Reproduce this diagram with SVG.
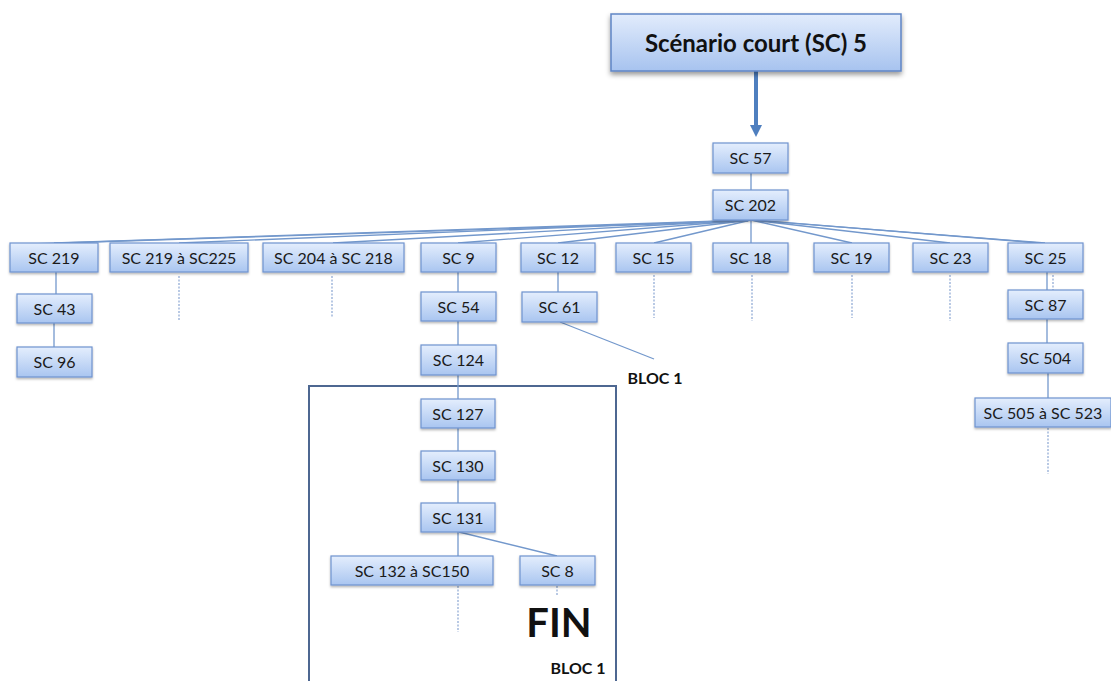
<svg xmlns="http://www.w3.org/2000/svg" width="1111" height="681" viewBox="0 0 1111 681">
<defs>
<linearGradient id="g" x1="0" y1="0" x2="0" y2="1">
<stop offset="0" stop-color="#e4eefd"/>
<stop offset="1" stop-color="#a9c5f0"/>
</linearGradient>
<linearGradient id="gt" x1="0" y1="0" x2="0" y2="1">
<stop offset="0" stop-color="#e2ecfc"/>
<stop offset="1" stop-color="#a7c3ef"/>
</linearGradient>
<filter id="sh" x="-20%" y="-30%" width="140%" height="170%">
<feDropShadow dx="0" dy="1.5" stdDeviation="1" flood-color="#000" flood-opacity="0.3"/>
</filter>
<filter id="sh2" x="-10%" y="-20%" width="120%" height="150%">
<feDropShadow dx="0" dy="3" stdDeviation="2.5" flood-color="#000" flood-opacity="0.4"/>
</filter>
<marker id="ah" markerWidth="14" markerHeight="12" refX="0" refY="6" orient="auto" markerUnits="userSpaceOnUse">
<path d="M0,0 L12,6 L0,12 Z" fill="#4f7fbf"/>
</marker>
</defs>
<style>
.n rect{fill:url(#g);stroke:#6f93cf;stroke-width:1.2;filter:url(#sh)}
.n text{font-family:Lato,"Open Sans",sans-serif;font-size:16px;fill:#1a1a1a;text-anchor:middle}
.c line{stroke:#7398cc;stroke-width:1.3;fill:none}
.c .d{stroke:#8aa6d2;stroke-width:1.2;stroke-dasharray:2 1.5}
.lbl{font-family:Lato,"Open Sans",sans-serif;font-weight:bold;fill:#111}
</style>
<rect width="1111" height="681" fill="#fff"/>

<g id="bloc-box">
<rect x="309" y="386" width="307" height="300" fill="none" stroke="#4d6791" stroke-width="2"/>
</g>

<g id="connectors" class="c">
<line x1="756" y1="71" x2="756" y2="125" style="stroke:#4f7fbf;stroke-width:4" marker-end="url(#ah)"/>
<line x1="751" y1="173" x2="751" y2="190"/>
<line x1="751" y1="220" x2="54" y2="243"/>
<line x1="748" y1="221" x2="30" y2="244"/>
<line x1="751" y1="220" x2="179" y2="243"/>
<line x1="751" y1="220" x2="333" y2="243"/>
<line x1="751" y1="220" x2="458" y2="243"/>
<line x1="751" y1="220" x2="558" y2="243"/>
<line x1="751" y1="220" x2="654" y2="243"/>
<line x1="751" y1="220" x2="751" y2="243"/>
<line x1="751" y1="220" x2="852" y2="243"/>
<line x1="751" y1="220" x2="950" y2="243"/>
<line x1="751" y1="220" x2="1045" y2="243"/>
<line x1="755" y1="220" x2="1040" y2="243"/>
<line x1="56" y1="272" x2="56" y2="294"/>
<line x1="54" y1="323" x2="54" y2="347"/>
<line class="d" x1="179" y1="276" x2="179" y2="321"/>
<line class="d" x1="332" y1="276" x2="332" y2="318"/>
<line x1="458" y1="272" x2="458" y2="292"/>
<line x1="458" y1="321" x2="458" y2="345"/>
<line x1="458" y1="375" x2="458" y2="399"/>
<line x1="458" y1="428" x2="458" y2="451"/>
<line x1="458" y1="480" x2="458" y2="503"/>
<line x1="458" y1="532" x2="458" y2="556"/>
<line x1="459" y1="532" x2="557" y2="556"/>
<line class="d" x1="458" y1="586" x2="458" y2="632"/>
<line class="d" x1="557" y1="586" x2="557" y2="595"/>
<line x1="558" y1="272" x2="558" y2="292"/>
<line x1="560" y1="322" x2="654" y2="359"/>
<line class="d" x1="654" y1="275" x2="654" y2="318"/>
<line class="d" x1="752" y1="275" x2="752" y2="321"/>
<line class="d" x1="852" y1="275" x2="852" y2="318"/>
<line class="d" x1="950" y1="275" x2="950" y2="321"/>
<line x1="1047" y1="272" x2="1047" y2="290"/>
<line class="d" x1="1053" y1="275" x2="1053" y2="320"/>
<line x1="1047" y1="319" x2="1047" y2="343"/>
<line x1="1048" y1="373" x2="1048" y2="398"/>
<line class="d" x1="1048" y1="428" x2="1048" y2="474"/>
</g>

<g id="title">
<rect x="611" y="14" width="290" height="57" fill="url(#gt)" stroke="#5f85c5" stroke-width="1.5" filter="url(#sh2)"/>
<text x="756" y="52" class="lbl" font-size="24" text-anchor="middle">Scénario court (SC) 5</text>
</g>

<g id="sc57" class="n"><rect x="713" y="143" width="75" height="30"/><text x="750.5" y="164">SC 57</text></g>
<g id="sc202" class="n"><rect x="713" y="190" width="75" height="30"/><text x="750.5" y="211">SC 202</text></g>

<g id="sc219" class="n"><rect x="10" y="243" width="88" height="29"/><text x="54" y="264">SC 219</text></g>
<g id="sc219-225" class="n"><rect x="110" y="243" width="138" height="29"/><text x="179" y="264">SC 219 à SC225</text></g>
<g id="sc204-218" class="n"><rect x="263" y="243" width="141" height="29"/><text x="333.5" y="264">SC 204 à SC 218</text></g>
<g id="sc9" class="n"><rect x="421" y="243" width="75" height="29"/><text x="458.5" y="264">SC 9</text></g>
<g id="sc12" class="n"><rect x="521" y="243" width="74" height="29"/><text x="558" y="264">SC 12</text></g>
<g id="sc15" class="n"><rect x="616" y="243" width="75" height="29"/><text x="653.5" y="264">SC 15</text></g>
<g id="sc18" class="n"><rect x="713" y="243" width="75" height="29"/><text x="750.5" y="264">SC 18</text></g>
<g id="sc19" class="n"><rect x="814" y="243" width="75" height="29"/><text x="851.5" y="264">SC 19</text></g>
<g id="sc23" class="n"><rect x="913" y="243" width="75" height="29"/><text x="950.5" y="264">SC 23</text></g>
<g id="sc25" class="n"><rect x="1008" y="243" width="75" height="29"/><text x="1045.5" y="264">SC 25</text></g>

<g id="sc43" class="n"><rect x="17" y="294" width="75" height="29"/><text x="54.5" y="315">SC 43</text></g>
<g id="sc96" class="n"><rect x="17" y="347" width="75" height="30"/><text x="54.5" y="368">SC 96</text></g>

<g id="sc54" class="n"><rect x="421" y="292" width="75" height="29"/><text x="458.5" y="313">SC 54</text></g>
<g id="sc124" class="n"><rect x="421" y="345" width="75" height="30"/><text x="458.5" y="366">SC 124</text></g>
<g id="sc61" class="n"><rect x="522" y="292" width="75" height="30"/><text x="559.5" y="313">SC 61</text></g>

<g id="sc127" class="n"><rect x="421" y="399" width="74" height="29"/><text x="458" y="420">SC 127</text></g>
<g id="sc130" class="n"><rect x="421" y="451" width="74" height="29"/><text x="458" y="472">SC 130</text></g>
<g id="sc131" class="n"><rect x="421" y="503" width="74" height="29"/><text x="458" y="524">SC 131</text></g>
<g id="sc132-150" class="n"><rect x="331" y="556" width="162" height="29"/><text x="412" y="577">SC 132 à SC150</text></g>
<g id="sc8" class="n"><rect x="520" y="556" width="75" height="29"/><text x="557.5" y="577">SC 8</text></g>

<g id="sc87" class="n"><rect x="1008" y="290" width="75" height="29"/><text x="1045.5" y="311">SC 87</text></g>
<g id="sc504" class="n"><rect x="1008" y="343" width="75" height="30"/><text x="1045.5" y="364">SC 504</text></g>
<g id="sc505-523" class="n"><rect x="975" y="398" width="136" height="29"/><text x="1043" y="419">SC 505 à SC 523</text></g>

<g id="labels">
<text x="655" y="384" class="lbl" font-size="16" text-anchor="middle">BLOC 1</text>
<text x="559" y="637" class="lbl" font-size="40" text-anchor="middle">FIN</text>
<text x="578" y="674" class="lbl" font-size="16" text-anchor="middle">BLOC 1</text>
</g>
</svg>
